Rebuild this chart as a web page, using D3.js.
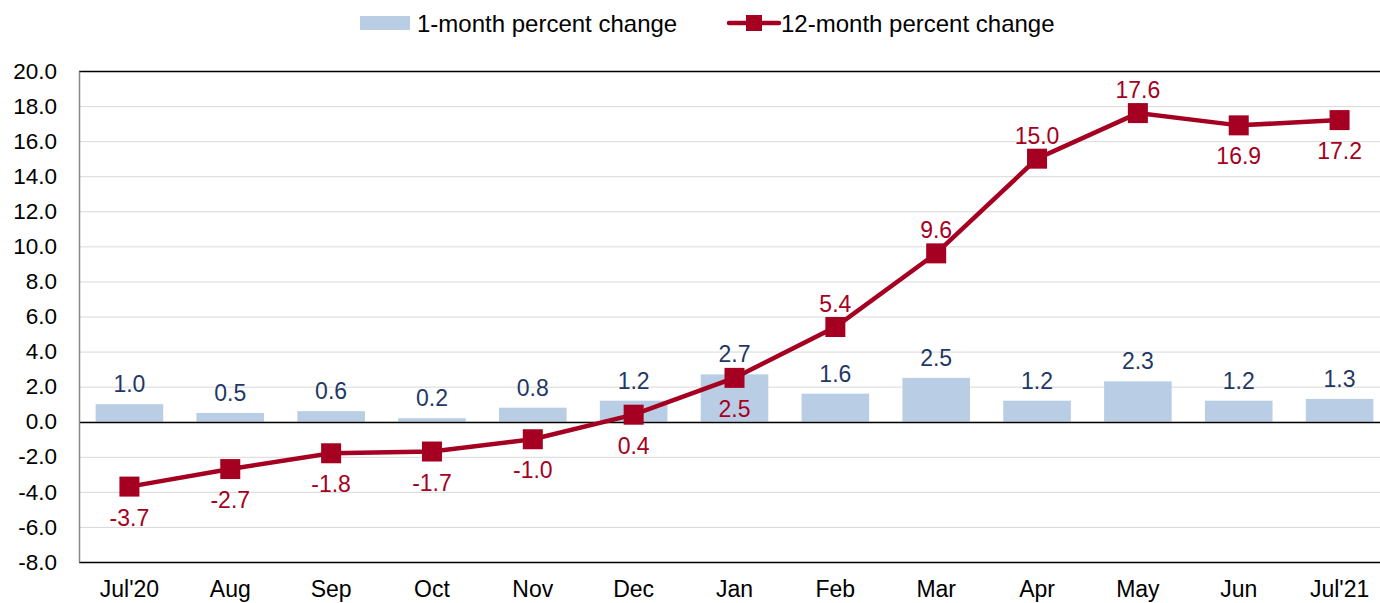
<!DOCTYPE html>
<html>
<head>
<meta charset="utf-8">
<script src="https://cdn.jsdelivr.net/npm/d3@7"></script>
<style>
  body { margin: 0; background: #fff; }
  svg { display: block; font-family: "Liberation Sans", Arial, sans-serif; }
</style>
</head>
<body>
<svg id="chart" width="1380" height="603"></svg>
<script>
// data
const months = ["Jul'20", "Aug", "Sep", "Oct", "Nov", "Dec", "Jan", "Feb", "Mar", "Apr", "May", "Jun", "Jul'21"];
const oneMonth = [1.0, 0.5, 0.6, 0.2, 0.8, 1.2, 2.7, 1.6, 2.5, 1.2, 2.3, 1.2, 1.3];
const twelveMonth = [-3.7, -2.7, -1.8, -1.7, -1.0, 0.4, 2.5, 5.4, 9.6, 15.0, 17.6, 16.9, 17.2];
const labelAbove = [false, false, false, false, false, false, false, true, true, true, true, false, false];
const yTicks = [-8, -6, -4, -2, 0, 2, 4, 6, 8, 10, 12, 14, 16, 18, 20];

const BAR = '#b9cde5';
const LINE = '#a50021';
const NAVY = '#1f3864';
const FONT = '"Liberation Sans", Arial, sans-serif';

const svg = d3.select('#chart');
const margin = { top: 71, right: -10, bottom: 41, left: 79 };
const W = 1380, H = 603;
const width = W - margin.left - margin.right;
const height = H - margin.top - margin.bottom;
const g = svg.append('g').attr('transform', `translate(${margin.left},${margin.top})`);

const x = d3.scaleBand().domain(months).range([0, width]).paddingInner(0.33).paddingOuter(0.165);
const xc = d => x(d) + x.bandwidth() / 2;
const y = d3.scaleLinear().domain([-8, 20]).range([height, 0]);

// Grid lines
g.append('g')
    .call(d3.axisLeft(y).tickValues(yTicks).tickSize(-width).tickFormat(''))
    .call(ax => ax.select('.domain').remove())
    .call(ax => ax.selectAll('.tick line').attr('stroke', '#d9d9d9').attr('stroke-width', 1));

// Bars
g.selectAll('.bar')
    .data(oneMonth)
    .enter()
    .append('rect')
    .attr('class', 'bar')
    .attr('x', (d, i) => x(months[i]))
    .attr('width', x.bandwidth())
    .attr('y', d => y(Math.max(0, d)))
    .attr('height', d => Math.abs(y(d) - y(0)))
    .attr('fill', BAR);

// top / bottom frame, zero line
[20, -8, 0].forEach(v => {
    g.append('line')
        .attr('x1', 0).attr('x2', width)
        .attr('y1', Math.round(y(v)) + 0.5).attr('y2', Math.round(y(v)) + 0.5)
        .attr('stroke', '#000').attr('stroke-width', v === 0 ? 1.6 : 1.3);
});

// Left axis
g.append('g')
    .call(d3.axisLeft(y).tickValues(yTicks).tickSize(0).tickPadding(22).tickFormat(d => d.toFixed(1)))
    .call(ax => ax.select('.domain').attr('stroke', '#898989').attr('stroke-width', 1.5))
    .call(ax => ax.selectAll('text').attr('font-size', '22.5px').attr('fill', '#000').attr('font-family', FONT));

// X axis labels
g.append('g')
    .attr('transform', `translate(0,${height})`)
    .call(d3.axisBottom(x).tickSize(0).tickPadding(19))
    .call(ax => ax.select('.domain').remove())
    .call(ax => ax.selectAll('text').attr('font-size', '23px').attr('fill', '#000').attr('font-family', FONT));

// Bar labels
g.selectAll('.bar-label')
    .data(oneMonth)
    .enter()
    .append('text')
    .attr('x', (d, i) => xc(months[i]))
    .attr('y', d => y(d) - 12)
    .attr('text-anchor', 'middle')
    .attr('font-size', '23px')
    .attr('fill', NAVY)
    .text(d => d.toFixed(1));

// Line
const line = d3.line()
    .x((d, i) => xc(months[i]))
    .y(d => y(d));

g.append('path')
    .datum(twelveMonth)
    .attr('fill', 'none')
    .attr('stroke', LINE)
    .attr('stroke-width', 4.5)
    .attr('d', line);

// Markers
const MS = 20;
g.selectAll('.marker')
    .data(twelveMonth)
    .enter()
    .append('rect')
    .attr('x', (d, i) => xc(months[i]) - MS / 2)
    .attr('y', d => y(d) - MS / 2)
    .attr('width', MS).attr('height', MS)
    .attr('fill', LINE);

// Line labels
g.selectAll('.line-label')
    .data(twelveMonth)
    .enter()
    .append('text')
    .attr('x', (d, i) => xc(months[i]))
    .attr('y', (d, i) => labelAbove[i] ? y(d) - 15 : y(d) + 39)
    .attr('text-anchor', 'middle')
    .attr('font-size', '23px')
    .attr('fill', LINE)
    .text(d => d.toFixed(1));

// Legend
const leg = svg.append('g');
leg.append('rect').attr('x', 360).attr('y', 16).attr('width', 50).attr('height', 14).attr('fill', BAR);
leg.append('text').attr('x', 417).attr('y', 32).attr('font-size', '24px').attr('fill', '#000').text('1-month percent change');
leg.append('line').attr('x1', 729).attr('x2', 779).attr('y1', 23).attr('y2', 23)
    .attr('stroke', LINE).attr('stroke-width', 4.5).attr('stroke-linecap', 'round');
leg.append('rect').attr('x', 746).attr('y', 15).attr('width', 16).attr('height', 16).attr('fill', LINE);
leg.append('text').attr('x', 781).attr('y', 32).attr('font-size', '24px').attr('fill', '#000').text('12-month percent change');
</script>
</body>
</html>
